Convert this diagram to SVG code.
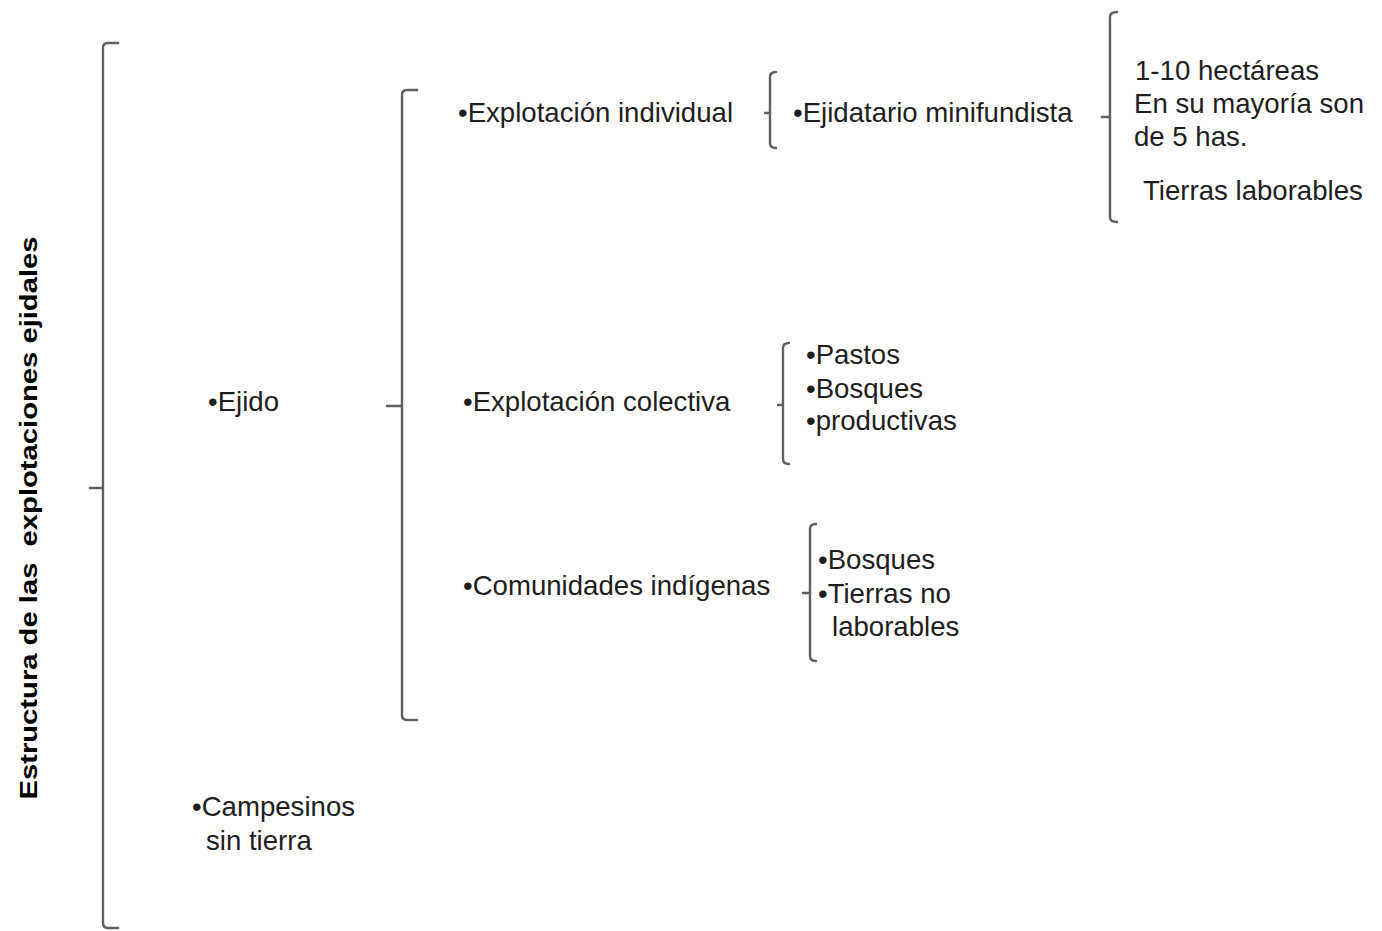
<svg xmlns="http://www.w3.org/2000/svg" width="1382" height="931" viewBox="0 0 1382 931">
<style>
.t{font-family:"Liberation Sans",Arial,sans-serif;font-size:27.6px;fill:#1e1e1e}
.title{font-family:"Liberation Sans",Arial,sans-serif;font-size:24px;font-weight:bold;fill:#000}
.br{fill:none;stroke:#606060;stroke-width:2.4;stroke-linecap:round;stroke-linejoin:round}
</style>
<rect width="1382" height="931" fill="#fff"/>
<g id="connectors">
<path class="br" d="M118,43 H108 Q103,43 103,48 V923 Q103,928 108,928 H118 M90,488 H103"/>
<path class="br" d="M417,90 H407 Q402,90 402,95 V715 Q402,720 407,720 H417 M387,406 H402"/>
<path class="br" d="M776,72 Q770,72 770,77 V143 Q770,148 776,148 M765,113 H770"/>
<path class="br" d="M1117,12 Q1110,12 1110,17 V217 Q1110,222 1117,222 M1102,117 H1110"/>
<path class="br" d="M789,343 Q783,343 783,348 V459 Q783,464 789,464 M778,405 H783"/>
<path class="br" d="M816,524 Q810,524 810,529 V656 Q810,661 816,661 M803,593 H810"/>
</g>
<g id="title"><text class="title" transform="translate(37,518) rotate(-90)" text-anchor="middle" textLength="563" lengthAdjust="spacingAndGlyphs" xml:space="preserve">Estructura de las  explotaciones ejidales</text></g>
<g id="ejido"><text class="t" x="208" y="411">•Ejido</text></g>
<g id="campesinos"><text class="t" x="192" y="816">•Campesinos</text><text class="t" x="206" y="850">sin tierra</text></g>
<g id="individual"><text class="t" x="458" y="122">•Explotación individual</text></g>
<g id="colectiva"><text class="t" x="463" y="411">•Explotación colectiva</text></g>
<g id="comunidades"><text class="t" x="463" y="595">•Comunidades indígenas</text></g>
<g id="ejidatario"><text class="t" x="793" y="122">•Ejidatario minifundista</text></g>
<g id="hectareas"><text class="t" x="1135" y="80">1-10 hectáreas</text><text class="t" x="1134" y="113">En su mayoría son</text><text class="t" x="1134" y="146">de 5 has.</text><text class="t" x="1143" y="200">Tierras laborables</text></g>
<g id="colectiva-items"><text class="t" x="806" y="364">•Pastos</text><text class="t" x="806" y="398">•Bosques</text><text class="t" x="806" y="430">•productivas</text></g>
<g id="comunidades-items"><text class="t" x="818" y="569">•Bosques</text><text class="t" x="818" y="603">•Tierras no</text><text class="t" x="832" y="636">laborables</text></g>
</svg>
